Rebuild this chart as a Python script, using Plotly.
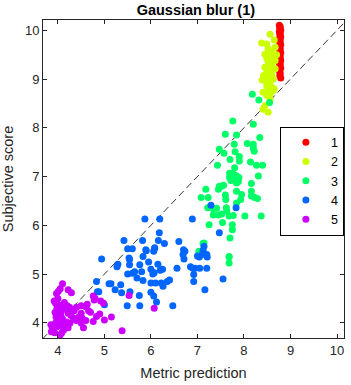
import plotly.graph_objects as go

# ---------------- data ----------------
red_x = [8.76, 8.78, 8.77, 8.79, 8.76, 8.78, 8.77, 8.79, 8.76, 8.78, 8.77, 8.79, 8.76, 8.78,
         8.77, 8.79, 8.76, 8.78, 8.77, 8.79, 8.76, 8.78, 8.77, 8.79, 8.76, 8.78, 8.77, 8.79]
red_y = [10.1, 10.07, 10.04, 10.0, 9.97, 9.93, 9.9, 9.86, 9.82, 9.78, 9.74, 9.7, 9.66, 9.62,
         9.58, 9.54, 9.5, 9.46, 9.42, 9.38, 9.34, 9.3, 9.26, 9.22, 9.17, 9.12, 9.07, 9.02]

yel_x = [8.56, 8.38, 8.65, 8.49, 8.67, 8.52, 8.60, 8.45, 8.56, 8.63, 8.49, 8.67, 8.52, 8.60,
         8.45, 8.56, 8.67, 8.49, 8.60, 8.42, 8.52, 8.63, 8.45, 8.56, 8.49, 8.60, 8.52, 8.63,
         8.56, 8.39, 8.49, 8.52, 8.65, 8.41, 8.49, 8.56, 8.45, 8.41, 8.52, 8.70, 8.58, 8.62]
yel_y = [9.92, 9.74, 9.80, 9.72, 9.65, 9.62, 9.55, 9.51, 9.48, 9.45, 9.42, 9.38, 9.35, 9.28,
         9.24, 9.21, 9.21, 9.14, 9.10, 9.07, 9.03, 9.00, 8.97, 8.93, 8.86, 8.83, 8.76, 8.76,
         8.69, 8.98, 9.10, 8.83, 8.80, 8.73, 8.66, 8.58, 8.45, 8.38, 8.32, 9.50, 9.32, 9.40]

grn_x = [8.18, 8.32, 8.55, 7.76, 8.20, 7.60, 7.84, 8.34, 8.07, 8.20, 8.20, 8.22, 7.79, 7.47,
         7.57, 7.81, 7.70, 7.90, 7.90, 8.14, 7.43, 8.27, 8.40, 7.80, 7.69, 7.75, 7.69, 7.75,
         7.80, 7.83, 7.89, 7.78, 7.84, 8.31, 8.16, 7.84, 7.52, 7.47, 7.56, 7.18, 7.45, 7.84,
         8.16, 8.16, 8.23, 8.29, 7.95, 7.08, 7.23, 7.61, 7.93, 7.84, 7.22, 7.62, 7.63, 7.34,
         7.34, 7.45, 7.52, 7.77, 7.68, 8.02, 8.37, 7.54, 7.75, 7.25, 7.75, 7.70, 7.12, 7.68,
         7.03, 7.68, 7.68, 7.14, 7.72, 7.88, 7.60, 7.41]
grn_y = [8.69, 8.57, 8.52, 8.14, 8.07, 7.87, 7.85, 7.80, 7.68, 7.66, 7.58, 7.52, 7.66, 7.56,
         7.48, 7.51, 7.35, 7.41, 7.32, 7.30, 7.23, 7.23, 7.23, 7.18, 7.07, 7.07, 6.98, 7.00,
         7.03, 6.98, 6.98, 6.95, 7.01, 7.01, 6.86, 6.87, 6.80, 6.80, 6.82, 6.74, 6.74, 6.70,
         6.70, 6.60, 6.57, 6.55, 6.63, 6.57, 6.57, 6.53, 6.53, 6.46, 6.36, 6.36, 6.30, 6.34,
         6.21, 6.21, 6.23, 6.20, 6.19, 6.19, 6.19, 6.06, 6.01, 6.01, 5.91, 5.74, 5.63, 5.36,
         5.47, 5.35, 5.23, 5.64, 6.92, 6.90, 6.62, 6.35]

blu_x = [7.29, 7.83, 5.87, 6.19, 6.89, 6.18, 7.47, 5.42, 5.82, 6.60, 6.16, 5.50, 5.60, 5.89,
         6.08, 6.06, 6.29, 6.73, 7.14, 7.12, 4.94, 5.53, 5.83, 6.71, 7.04, 7.21, 5.29, 5.27,
         5.54, 5.54, 5.90, 6.08, 6.70, 6.69, 7.00, 7.10, 7.20, 7.20, 6.90, 6.95, 7.05, 6.56,
         6.15, 6.20, 6.00, 6.07, 6.04, 5.76, 5.50, 5.60, 5.65, 5.80, 5.83, 6.00, 6.10, 6.22,
         6.26, 6.35, 6.40, 6.92, 6.92, 7.55, 7.16, 4.83, 5.10, 5.14, 4.85, 4.88, 5.23, 5.37,
         5.55, 5.75, 6.00, 6.06, 6.12, 5.49, 5.76, 6.47, 5.00, 5.95, 6.25, 5.70, 5.35, 6.85]
blu_y = [6.41, 6.36, 6.13, 6.13, 6.13, 5.85, 5.85, 5.69, 5.69, 5.67, 5.69, 5.52, 5.52, 5.50,
         5.54, 5.47, 5.63, 5.47, 5.57, 5.49, 5.31, 5.33, 5.36, 5.31, 5.35, 5.35, 5.20, 5.15,
         5.30, 5.19, 5.48, 5.53, 5.50, 5.40, 5.37, 5.40, 5.40, 5.12, 5.12, 5.12, 5.12, 5.12,
         5.20, 5.08, 5.10, 5.03, 5.00, 5.19, 5.00, 5.02, 5.05, 5.05, 4.87, 4.82, 4.82, 4.82,
         4.75, 4.85, 4.88, 4.99, 4.85, 4.90, 4.68, 4.85, 4.80, 4.80, 4.64, 4.64, 4.68, 4.62,
         4.64, 4.56, 4.63, 4.55, 4.43, 4.35, 4.35, 4.35, 4.37, 5.25, 5.10, 4.92, 4.78, 5.15]

mag_x = [4.10, 4.05, 4.01, 3.97, 4.22, 4.29, 4.76, 4.78, 4.80, 4.92, 4.98, 5.53, 6.07, 4.40,
         4.50, 4.50, 4.60, 3.95, 4.00, 4.05, 3.98, 4.02, 4.08, 3.94, 4.00, 4.06, 3.96, 4.03,
         4.10, 3.99, 4.04, 3.95, 4.01, 4.07, 3.98, 4.12, 4.20, 4.25, 4.30, 4.35, 4.22, 4.28,
         4.33, 4.40, 4.18, 4.26, 4.36, 4.45, 4.15, 4.22, 4.52, 4.50, 4.55, 4.76, 4.83, 5.00,
         5.15, 5.38, 4.08, 3.86, 3.88, 3.90, 3.85, 3.89, 3.93, 4.12, 4.05, 4.66, 4.70, 3.92,
         4.14, 4.00, 4.60, 4.90, 4.63]
mag_y = [4.80, 4.70, 4.65, 4.60, 4.68, 4.62, 4.55, 4.47, 4.50, 4.45, 4.40, 4.56, 4.30, 4.32,
         4.35, 4.20, 4.33, 4.40, 4.38, 4.35, 4.30, 4.28, 4.25, 4.22, 4.18, 4.15, 4.12, 4.10,
         4.08, 4.05, 4.02, 4.00, 3.98, 3.95, 3.92, 4.30, 4.35, 4.32, 4.28, 4.25, 4.20, 4.15,
         4.10, 4.05, 4.02, 4.00, 4.08, 4.12, 3.95, 3.90, 4.10, 4.00, 3.90, 4.03, 4.13, 4.06,
         4.12, 3.84, 3.79, 3.82, 3.88, 3.92, 3.96, 3.85, 3.80, 3.85, 3.75, 4.25, 4.22, 4.45,
         4.42, 4.50, 4.05, 4.18, 4.38]

series_names = ["1", "2", "3", "4", "5"]
series_colors = ["#FF0000", "#CCFF00", "#00FF66", "#0066FF", "#CC00FF"]
series_x = [red_x, yel_x, grn_x, blu_x, mag_x]
series_y = [red_y, yel_y, grn_y, blu_y, mag_y]

x_range = [3.68, 10.15]
y_range = [3.69, 10.21]
diag = [3.5, 10.5]

fig = go.Figure()
fig.add_trace(go.Scatter(x=diag, y=diag, mode="lines", showlegend=False,
                         line=dict(color="black", width=0.8, dash="7px,4px"),
                         hoverinfo="skip"))
for name, col, xs, ys in zip(series_names, series_colors, series_x, series_y):
    fig.add_trace(go.Scatter(x=xs, y=ys, mode="markers", name=name,
                             marker=dict(color=col, size=7, line=dict(width=0))))

axis_common = dict(showgrid=False, zeroline=False, showline=True, linecolor="#262626",
                   linewidth=1, mirror="ticks", ticks="inside", ticklen=4,
                   tickcolor="#262626", tickfont=dict(size=13, color="#262626"),
                   dtick=1)
fig.update_layout(
    width=351, height=385,
    margin=dict(l=43, r=7, t=20, b=47),
    paper_bgcolor="white", plot_bgcolor="white",
    font=dict(family="Liberation Sans, Arial, sans-serif", color="#262626"),
    title=dict(text="<b>Gaussian blur (1)</b>", x=0.558, xanchor="center",
               y=0.975, yanchor="middle", font=dict(size=14.5, color="black")),
    xaxis=dict(range=x_range, title=dict(text="Metric prediction", standoff=11,
                                         font=dict(size=14.5)), **axis_common),
    yaxis=dict(range=y_range, title=dict(text="Subjective score", standoff=8,
                                         font=dict(size=14.5)), **axis_common),
    legend=dict(x=0.787, y=0.665, xanchor="left", yanchor="top",
                bordercolor="black", borderwidth=1, bgcolor="white",
                font=dict(size=12.5, color="black"), itemwidth=40),
    showlegend=True,
)
fig.write_html("out.html")
